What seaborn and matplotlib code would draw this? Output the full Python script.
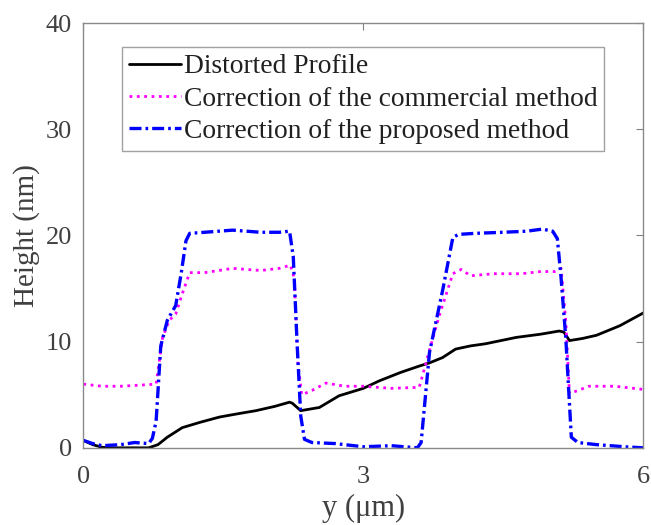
import matplotlib
matplotlib.use("Agg")
import matplotlib.pyplot as plt
import seaborn as sns

# Distorted profile (black solid)
dist_x = [0, 0.1, 0.2, 0.3, 0.5, 0.7, 0.8, 0.9, 1.06, 1.25, 1.46, 1.65, 1.85, 2.05, 2.21, 2.24, 2.33,
          2.53, 2.74, 3.0, 3.17, 3.4, 3.6, 3.71, 3.85, 3.99, 4.15, 4.31, 4.64, 4.9, 5.1, 5.15, 5.21,
          5.35, 5.5, 5.75, 5.98, 6.0]
dist_y = [0.7, 0.3, 0.05, 0.0, 0.0, 0.0, 0.3, 1.0, 1.9, 2.4, 2.9, 3.2, 3.5, 3.9, 4.3, 4.2, 3.5,
          3.8, 4.9, 5.6, 6.3, 7.1, 7.7, 8.0, 8.5, 9.3, 9.6, 9.8, 10.4, 10.7, 11.0, 10.9, 10.1,
          10.3, 10.6, 11.5, 12.6, 12.7]

# Correction of the commercial method (magenta dotted)
comm_x = [0, 0.2, 0.4, 0.6, 0.78, 0.85, 0.92, 0.99, 1.06, 1.14, 1.3, 1.6, 1.9, 2.1, 2.22, 2.26, 2.3,
          2.34, 2.45, 2.6, 2.8, 3.0, 3.3, 3.6, 3.71, 3.82, 3.96, 4.05, 4.15, 4.4, 4.7, 4.9, 5.05,
          5.12, 5.17, 5.21, 5.3, 5.42, 5.7, 6.0]
comm_y = [6.0, 5.8, 5.8, 5.9, 6.0, 10.4, 12.0, 12.6, 14.5, 16.5, 16.5, 16.9, 16.7, 16.9, 17.2, 16.0, 8.0,
          5.0, 5.4, 6.1, 5.8, 5.8, 5.6, 5.7, 9.2, 12.6, 16.4, 16.8, 16.2, 16.4, 16.4, 16.6, 16.6,
          16.9, 12.0, 5.1, 5.4, 5.8, 5.8, 5.5]

# Correction of the proposed method (blue dash-dot)
prop_x = [0, 0.1, 0.2, 0.4, 0.55, 0.7, 0.74, 0.78, 0.83, 0.9, 0.99, 1.05, 1.1, 1.14, 1.3, 1.6, 1.9,
          2.1, 2.21, 2.25, 2.29, 2.33, 2.37, 2.45, 2.7, 3.0, 3.3, 3.58, 3.62, 3.71, 3.85, 3.96, 4.02,
          4.2, 4.5, 4.75, 4.92, 5.03, 5.08, 5.12, 5.17, 5.23, 5.3, 5.5, 5.8, 6.0]
prop_y = [0.7, 0.4, 0.2, 0.3, 0.5, 0.4, 0.9, 2.5, 9.6, 12.0, 13.4, 16.5, 19.5, 20.2, 20.3, 20.5, 20.3,
          20.3, 20.4, 18.0, 10.0, 3.0, 0.8, 0.5, 0.4, 0.1, 0.2, 0.0, 0.5, 9.0, 14.8, 19.8, 20.1,
          20.2, 20.3, 20.4, 20.6, 20.4, 19.7, 16.0, 10.4, 1.0, 0.5, 0.3, 0.1, 0.0]

x_ticks = [0, 3, 6]
y_ticks = [0, 10, 20, 30, 40]

sns.set_theme(style="white")
plt.rcParams['font.family'] = ['Liberation Serif', 'DejaVu Serif']

fig = plt.figure(figsize=(6.51, 5.25), dpi=100)
ax = fig.add_axes([0.128, 0.147, 0.860, 0.809])

sns.lineplot(x=dist_x, y=dist_y, ax=ax, color='black', linewidth=2.0,
             label='Distorted Profile', sort=False)
sns.lineplot(x=comm_x, y=comm_y, ax=ax, color='#ff00ff', linewidth=2.0, linestyle=':',
             label='Correction of the commercial method', sort=False)
sns.lineplot(x=prop_x, y=prop_y, ax=ax, color='#0000ff', linewidth=2.4,
             linestyle=(0, (3.6, 1.2, 0.8, 1.2)),
             label='Correction of the proposed method', sort=False)

ax.set_xlim(0, 6)
ax.set_ylim(0, 40)
ax.set_xticks(x_ticks)
ax.set_yticks(y_ticks)
ax.tick_params(direction='in', length=5, width=0.8, colors='#808080', labelcolor='#404040',
               labelsize=19, top=True, right=True)
ax.tick_params(axis='x', pad=13)
ax.tick_params(axis='y', pad=8)
for s in ax.spines.values():
    s.set_color('#8a8a8a')
    s.set_linewidth(1.0)

ax.set_xlabel('y (μm)', fontsize=22, color='#404040', labelpad=4)
ax.set_ylabel('Height (nm)', fontsize=21, color='#404040', labelpad=4)

leg = ax.legend(loc='upper left', bbox_to_anchor=(0.069, 0.943), fontsize=19.8, frameon=True,
                fancybox=False, handlelength=1.9, handletextpad=0.1, borderpad=0.25,
                labelspacing=0.25, borderaxespad=0)
leg.get_frame().set_edgecolor('#8a8a8a')
leg.get_frame().set_linewidth(1.0)
for t in leg.get_texts():
    t.set_color('#202020')

fig.savefig('out.png', dpi=100)
